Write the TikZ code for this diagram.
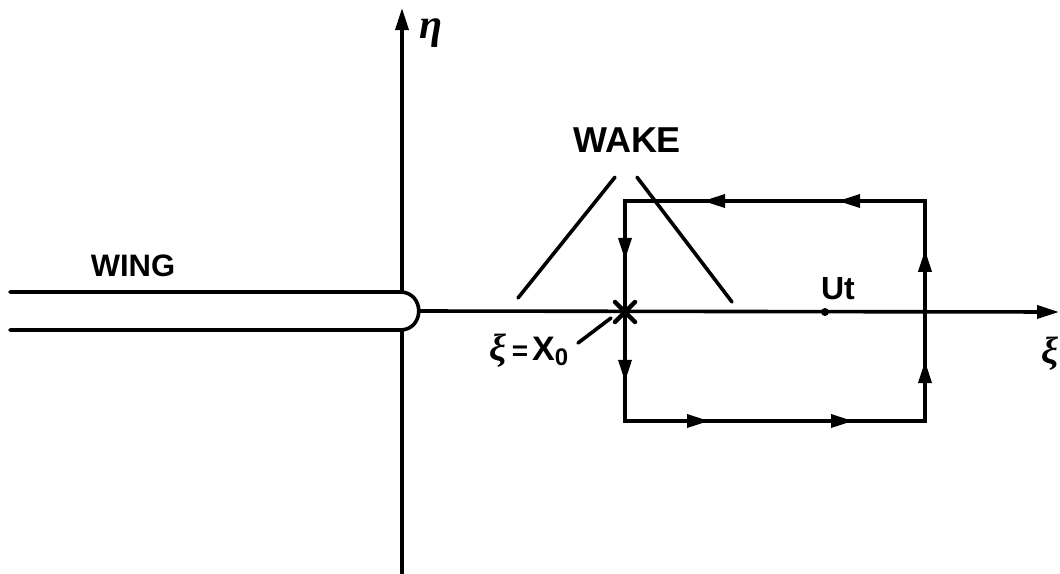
\documentclass[tikz,border=0pt]{standalone}
\usepackage{fontspec}
\setsansfont{Liberation Sans}
\newfontfamily\grk{Liberation Serif}
\usetikzlibrary{arrows.meta,decorations.markings}
\begin{document}
\begin{tikzpicture}[x=1pt,y=-1pt,line width=3.6pt,line cap=round,line join=miter,
  lbl/.style={font=\sffamily\bfseries, inner sep=0pt},
  tip/.style={-{Triangle[length=22pt,width=13pt]}},
  flow/.style 2 args={postaction={decorate},decoration={markings,
     mark=at position #1 with {\arrow{Triangle[length=22pt,width=13pt]}},
     mark=at position #2 with {\arrow{Triangle[length=22pt,width=13pt]}}}},
  flowone/.style={postaction={decorate},decoration={markings,
     mark=at position #1 with {\arrow{Triangle[length=22pt,width=13pt]}}}}]
\useasboundingbox (0,0) rectangle (1060,573);
% eta axis
\coordinate (etaTop) at (402,8);
\coordinate (etaBot) at (402,573);
\draw[tip] (etaBot) -- (etaTop);
% wing
\fill[white] (10,292) -- (400,292) .. controls (425,292) and (425,330) .. (400,330) -- (10,330) -- cycle;
\draw (10,292) -- (400,292) .. controls (425,292) and (425,330) .. (400,330) -- (10,330);
% xi axis
\coordinate (wingTip) at (419,311);
\coordinate (xiEnd) at (1059,312);
\draw[tip] (wingTip) -- (xiEnd);
% rectangle contour
\coordinate (A) at (625,201);
\coordinate (B) at (925,201);
\coordinate (C) at (925,421);
\coordinate (D) at (625,421);
\coordinate (P) at (625,312);
\coordinate (Q) at (925,312);
\draw (B) -- (A) -- (D) -- (C) -- cycle;
\path[flow={0.29}{0.74}] (B) -- (A);
\path[flowone=0.53] (A) -- (P);
\path[flowone=0.64] (P) -- (D);
\path[flow={0.28}{0.76}] (D) -- (C);
\path[flowone=0.55] (C) -- (Q);
\path[flowone=0.56] (Q) -- (B);
% asterisk at x0
\draw[line width=4.5pt] (615,302) -- (635,322);
\draw[line width=4.5pt] (615,322) -- (635,302);
% Ut point
\fill (825,312) circle (4);
\node[lbl,font={\sffamily\bfseries\fontsize{32}{32}\selectfont}] (ut) at (838,289) {Ut};
% labels
\node[lbl,font={\sffamily\bfseries\fontsize{36}{36}\selectfont}] (wake) at (627,140) {WAKE};
\node[lbl,font={\sffamily\bfseries\fontsize{31}{31}\selectfont}] (wing) at (133,266) {WING};
\node[lbl,font={\grk\bfseries\itshape\fontsize{42}{42}\selectfont}] (etalbl) at (431,33) {η};
\node[lbl,font={\sffamily\bfseries\fontsize{34}{34}\selectfont},anchor=west] (x0) at (488,351)
  {{\grk\itshape\fontsize{38}{38}\selectfont ξ}\hspace{5pt}{\fontsize{28}{28}\selectfont =}\hspace{4pt}X\raisebox{-5pt}{\fontsize{24}{24}\selectfont 0}};
\node[lbl,font={\grk\bfseries\itshape\fontsize{38}{38}\selectfont},anchor=west] (xilbl) at (1040,354) {ξ};
% wake leaders
\coordinate (wl1) at (518,298);
\coordinate (wl2) at (732,302);
\draw ([shift={(-12,23)}]wake.south) -- (wl1);
\draw ([shift={(10,23)}]wake.south) -- (wl2);
% x0 leader
\coordinate (x0pt) at (611,318);
\draw (578,343) -- (x0pt);
\end{tikzpicture}
\end{document}
